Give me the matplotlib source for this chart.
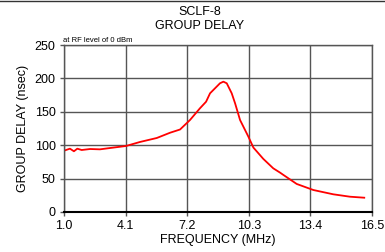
import matplotlib
matplotlib.use("Agg")
import matplotlib.pyplot as plt
from matplotlib.lines import Line2D

freq = [1.0, 1.30, 1.50, 1.67, 1.89, 2.31, 2.81, 3.32, 4.12, 4.82, 5.67, 6.34,
        6.84, 7.34, 7.84, 8.15, 8.35, 8.60, 8.85, 9.02, 9.19, 9.44, 9.61,
        9.86, 10.28, 10.53, 11.03, 11.53, 11.87, 12.04, 12.71, 13.55, 14.55,
        15.39, 16.11]
delay = [91.8, 94.8, 90.9, 94.8, 92.8, 94.3, 93.8, 95.8, 98.8, 104.8, 110.8, 118.7,
         123.5, 137.7, 155.2, 165.1, 177.7, 185.2, 192.7, 195.1, 192.7, 177.7, 162.7,
         137.7, 112.7, 96.5, 79.5, 65.4, 59.0, 55.5, 42.0, 32.9, 26.5,
         22.9, 21.4]
xticks = [1.0, 4.1, 7.2, 10.3, 13.4, 16.5]
yticks = [0, 50, 100, 150, 200, 250]

plt.rcParams['font.family'] = ['Liberation Sans', 'DejaVu Sans']

fig = plt.figure(figsize=(3.85, 2.52), dpi=100)
ax = fig.add_axes([64/385, 1-212/252, (372-64)/385, (212-45)/252])

ax.plot(freq, delay, color='#ff0000', lw=1.3)
ax.set_xlim(1.0, 16.5)
ax.set_ylim(0, 250)
ax.set_xticks(xticks)
ax.set_xticklabels([f"{v:.1f}" for v in xticks])
ax.set_yticks(yticks)
ax.grid(True, color='#555555', lw=1.0)
ax.set_axisbelow(True)
for s in ax.spines.values():
    s.set_color('#555555')
    s.set_linewidth(1.0)
ax.spines['bottom'].set_color('black')
ax.spines['bottom'].set_linewidth(1.5)
ax.tick_params(axis='both', labelsize=9, length=3, width=1, color='#555555', pad=3)
ax.set_xlabel('FREQUENCY (MHz)', fontsize=9, labelpad=1)
ax.set_ylabel('GROUP DELAY (nsec)', fontsize=9, labelpad=4)

fig.text(200/385, 1-12/252, 'SCLF-8', ha='center', va='center', fontsize=9)
fig.text(200/385, 1-26/252, 'GROUP DELAY', ha='center', va='center', fontsize=9)
fig.text(63/385, 1-40/252, 'at RF level of 0 dBm', ha='left', va='center', fontsize=5.5)
fig.add_artist(Line2D([0, 1], [0.998, 0.998], transform=fig.transFigure, color='#333333', lw=1))

fig.savefig('out.png', dpi=100)
